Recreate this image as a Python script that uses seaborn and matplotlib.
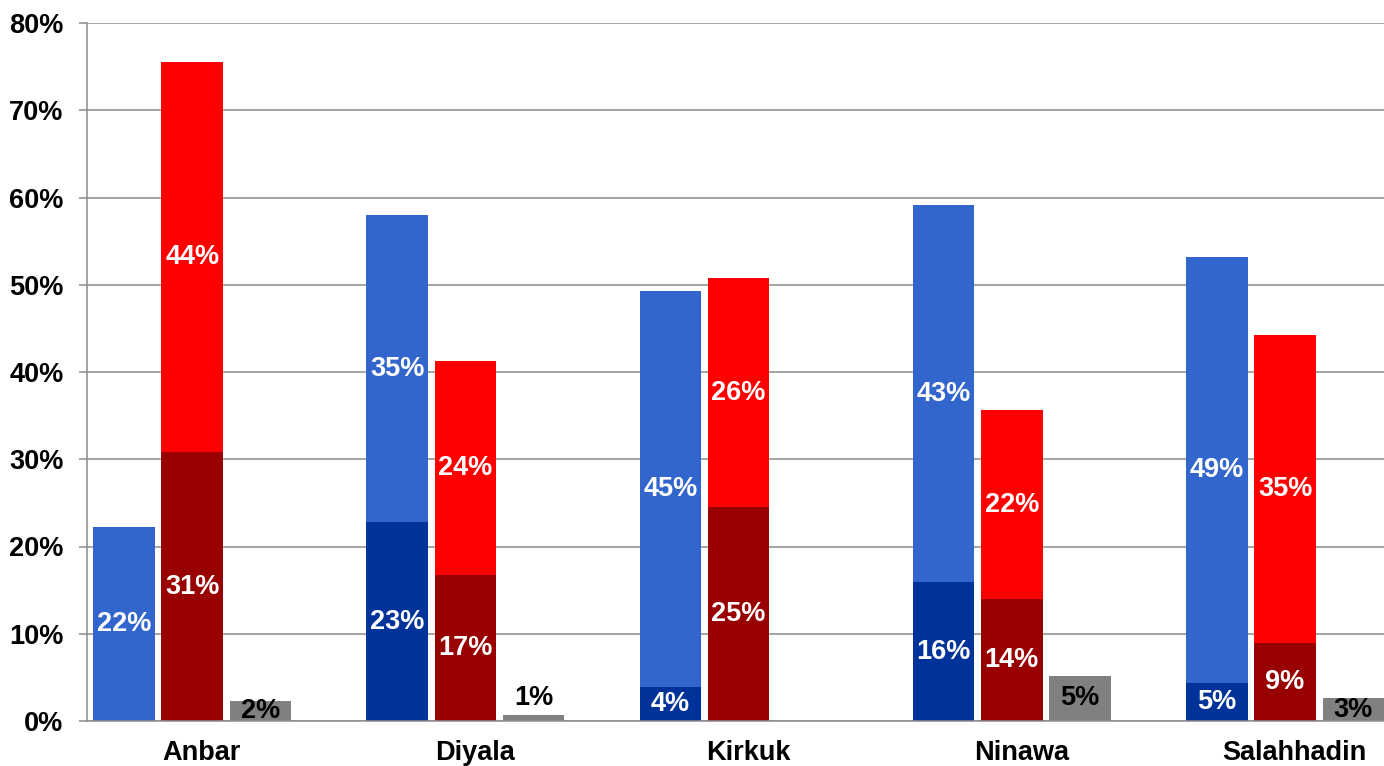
import matplotlib
matplotlib.use("Agg")
import matplotlib.pyplot as plt
import seaborn as sns
import pandas as pd
import numpy as np

categories = ["Anbar", "Diyala", "Kirkuk", "Ninawa", "Salahhadin"]
# blue bar: dark bottom + light top
blue_bottom = [0.0, 22.8, 3.9, 15.9, 4.4]
blue_top = [22.2, 35.2, 45.4, 43.2, 48.8]
blue_bottom_lbl = ["", "23%", "4%", "16%", "5%"]
blue_top_lbl = ["22%", "35%", "45%", "43%", "49%"]
# red bar: dark bottom + bright top
red_bottom = [30.8, 16.7, 24.5, 14.0, 8.9]
red_top = [44.7, 24.6, 26.3, 21.6, 35.3]
red_bottom_lbl = ["31%", "17%", "25%", "14%", "9%"]
red_top_lbl = ["44%", "24%", "26%", "22%", "35%"]
# gray bar
gray = [2.3, 0.7, 0.0, 5.2, 2.6]
gray_lbl = ["2%", "1%", "", "5%", "3%"]

series = ["blue", "red", "gray"]
c_light = {"blue": "#3366CC", "red": "#FF0000", "gray": "#808080"}
c_dark = {"blue": "#003399", "red": "#990000", "gray": "#808080"}

totals = pd.DataFrame({
    "cat": categories * 3,
    "series": sum([[s] * len(categories) for s in series], []),
    "value": list(np.add(blue_bottom, blue_top)) + list(np.add(red_bottom, red_top)) + gray,
})
bottoms = pd.DataFrame({
    "cat": categories * 3,
    "series": sum([[s] * len(categories) for s in series], []),
    "value": blue_bottom + red_bottom + gray,
})

sns.set_style("white")
plt.rcParams["font.family"] = ["Liberation Sans", "DejaVu Sans"]
plt.rcParams["font.weight"] = "bold"
plt.rcParams["text.color"] = "black"
plt.rcParams["xtick.color"] = "black"
plt.rcParams["ytick.color"] = "black"

fig = plt.figure(figsize=(13.84, 7.66), dpi=100)
ax = fig.add_axes([87 / 1384, 45 / 766, (1384 - 87) / 1384, (721 - 23) / 766])

grid_c = "#8c8c8c"
ax.set_axisbelow(True)
ax.yaxis.grid(True, color=grid_c, lw=1.1)

sns.barplot(data=totals, x="cat", y="value", hue="series", order=categories,
            hue_order=series, palette=c_light, width=0.75, gap=0.1,
            saturation=1, legend=False, ax=ax, errorbar=None, linewidth=0)
sns.barplot(data=bottoms, x="cat", y="value", hue="series", order=categories,
            hue_order=series, palette=c_dark, width=0.75, gap=0.1,
            saturation=1, legend=False, ax=ax, errorbar=None, linewidth=0)

# labels
cont = ax.containers
fs = 19.5
def xc(patch):
    return patch.get_x() + patch.get_width() / 2

for i in range(len(categories)):
    pb = cont[0].patches[i]
    pr = cont[1].patches[i]
    pg = cont[2].patches[i]
    if blue_bottom_lbl[i]:
        ax.text(xc(pb), blue_bottom[i] / 2, blue_bottom_lbl[i], color="white",
                ha="center", va="center", fontsize=fs, fontweight="bold")
    ax.text(xc(pb), blue_bottom[i] + blue_top[i] / 2, blue_top_lbl[i], color="white",
            ha="center", va="center", fontsize=fs, fontweight="bold")
    ax.text(xc(pr), red_bottom[i] / 2, red_bottom_lbl[i], color="white",
            ha="center", va="center", fontsize=fs, fontweight="bold")
    ax.text(xc(pr), red_bottom[i] + red_top[i] / 2, red_top_lbl[i], color="white",
            ha="center", va="center", fontsize=fs, fontweight="bold")
    if gray_lbl[i]:
        if gray[i] < 1.5:
            ax.text(xc(pg), gray[i] + 0.5, gray_lbl[i], color="black",
                    ha="center", va="bottom", fontsize=fs, fontweight="bold")
        else:
            ax.text(xc(pg), gray[i] / 2, gray_lbl[i], color="black",
                    ha="center", va="center", fontsize=fs, fontweight="bold")

ax.set_ylim(0, 80)
ax.set_xlim(-0.385, 4.362)
ax.set_yticks(np.arange(0, 81, 10))
ax.set_yticklabels([f"{v}%" for v in range(0, 81, 10)], fontsize=fs, fontweight="bold")
ax.set_xticks(np.arange(len(categories)) + 0.035)
ax.set_xticklabels(categories, fontsize=fs, fontweight="bold")
ax.tick_params(axis="x", length=0, pad=14)
ax.tick_params(axis="y", length=6, color=grid_c, width=1.1, pad=11, left=True)
ax.set_xlabel("")
ax.set_ylabel("")
for s in ["top", "right"]:
    ax.spines[s].set_visible(False)
ax.spines["left"].set_color(grid_c)
ax.spines["left"].set_linewidth(1.1)
ax.spines["bottom"].set_color(grid_c)
ax.spines["bottom"].set_linewidth(1.1)

fig.savefig("out.png", dpi=100)
